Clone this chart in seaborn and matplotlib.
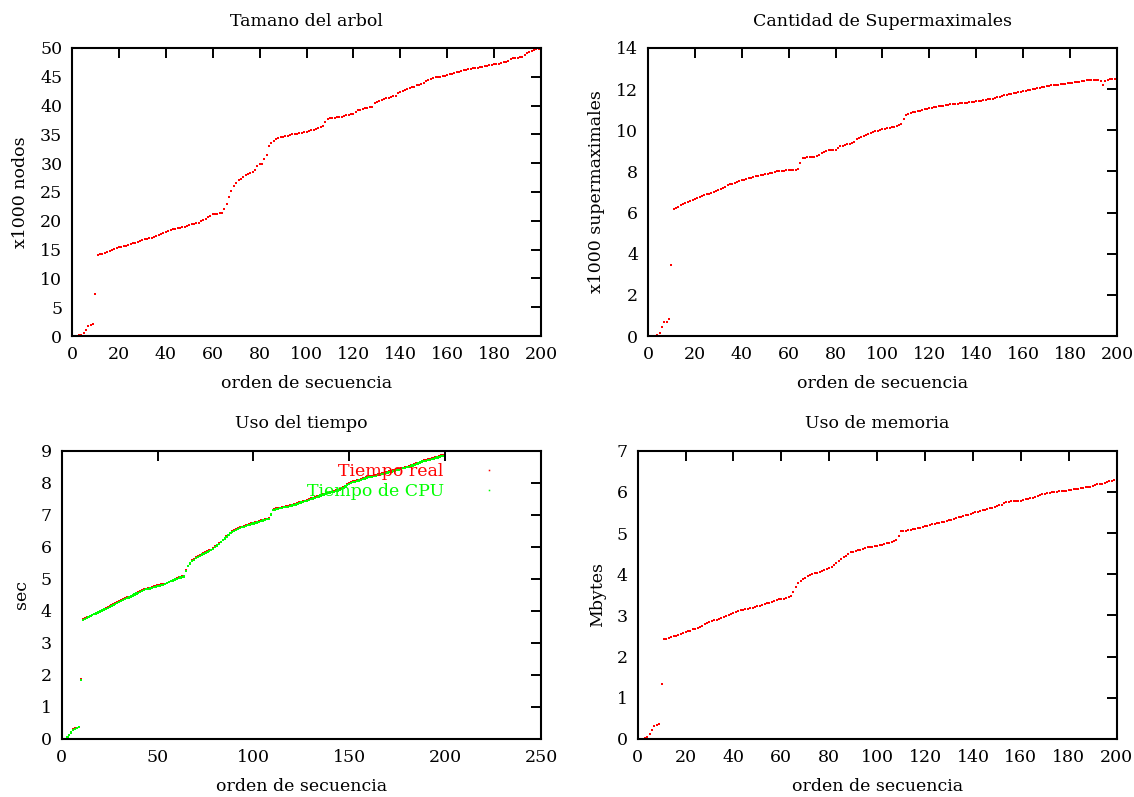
import numpy as np
import pandas as pd
import matplotlib
matplotlib.use("Agg")
import matplotlib.pyplot as plt
import seaborn as sns

# Datos (orden de secuencia 1..199)
orden = list(range(1, 200))

nodos = [
    0.0, 0.05, 0.1, 0.2, 0.6, 1.0, 1.7, 1.9, 2.0, 7.3,
    14.1, 14.2, 14.3, 14.4, 14.6, 14.8, 15.0, 15.1, 15.2, 15.4,
    15.5, 15.6, 15.7, 15.8, 15.9, 16.1, 16.2, 16.4, 16.5, 16.7,
    16.8, 16.9, 17.0, 17.1, 17.2, 17.3, 17.5, 17.7, 17.9, 18.1,
    18.3, 18.4, 18.5, 18.6, 18.7, 18.8, 18.9, 19.0, 19.1, 19.2,
    19.4, 19.5, 19.6, 19.7, 19.9, 20.1, 20.3, 20.6, 20.9, 21.1,
    21.2, 21.2, 21.3, 21.3, 22.1, 23.0, 24.2, 25.2, 26.1, 26.6,
    27.0, 27.3, 27.6, 27.9, 28.1, 28.3, 28.5, 28.8, 29.5, 29.8,
    29.9, 30.8, 31.4, 33.0, 33.5, 33.9, 34.2, 34.3, 34.5, 34.6,
    34.7, 34.8, 34.9, 35.0, 35.0, 35.1, 35.2, 35.3, 35.4, 35.5,
    35.6, 35.7, 35.8, 35.9, 36.1, 36.3, 36.5, 37.2, 37.7, 37.8,
    37.9, 37.9, 38.0, 38.0, 38.1, 38.2, 38.3, 38.4, 38.5, 38.6,
    38.9, 39.2, 39.3, 39.4, 39.5, 39.6, 39.7, 39.8, 40.5, 40.6,
    40.8, 41.0, 41.2, 41.3, 41.4, 41.5, 41.6, 41.7, 42.1, 42.4,
    42.5, 42.7, 42.9, 43.0, 43.2, 43.3, 43.5, 43.6, 43.8, 44.0,
    44.2, 44.4, 44.7, 44.8, 44.9, 45.0, 45.0, 45.1, 45.2, 45.3,
    45.4, 45.5, 45.6, 45.8, 45.9, 46.0, 46.1, 46.2, 46.3, 46.4,
    46.5, 46.5, 46.6, 46.7, 46.7, 46.8, 46.9, 47.0, 47.1, 47.2,
    47.3, 47.3, 47.4, 47.5, 47.6, 47.8, 48.1, 48.2, 48.3, 48.3,
    48.4, 48.4, 48.8, 49.1, 49.3, 49.5, 49.7, 49.8, 49.9,
]

supermax = [
    0.0, 0.0, 0.0, 0.05, 0.15, 0.44, 0.68, 0.7, 0.83, 3.45,
    6.19, 6.24, 6.29, 6.35, 6.43, 6.48, 6.53, 6.58, 6.63, 6.67,
    6.71, 6.75, 6.8, 6.84, 6.88, 6.92, 6.96, 7.02, 7.07, 7.12,
    7.16, 7.21, 7.26, 7.32, 7.37, 7.41, 7.45, 7.49, 7.53, 7.57,
    7.6, 7.63, 7.67, 7.7, 7.73, 7.77, 7.8, 7.82, 7.84, 7.86,
    7.88, 7.9, 7.93, 7.97, 8.0, 8.02, 8.03, 8.04, 8.05, 8.05,
    8.06, 8.07, 8.08, 8.13, 8.42, 8.66, 8.67, 8.68, 8.69, 8.7,
    8.71, 8.73, 8.8, 8.88, 8.95, 9.0, 9.02, 9.03, 9.04, 9.05,
    9.12, 9.22, 9.25, 9.28, 9.31, 9.34, 9.37, 9.45, 9.58, 9.63,
    9.68, 9.72, 9.78, 9.84, 9.89, 9.92, 9.95, 9.98, 10.01, 10.04,
    10.06, 10.09, 10.12, 10.15, 10.18, 10.22, 10.26, 10.29, 10.54, 10.75,
    10.8, 10.84, 10.87, 10.9, 10.93, 10.96, 10.99, 11.02, 11.05, 11.08,
    11.1, 11.12, 11.15, 11.17, 11.19, 11.2, 11.22, 11.24, 11.26, 11.27,
    11.28, 11.3, 11.31, 11.32, 11.34, 11.35, 11.36, 11.38, 11.39, 11.41,
    11.43, 11.44, 11.46, 11.48, 11.5, 11.52, 11.54, 11.55, 11.6, 11.64,
    11.68, 11.7, 11.73, 11.75, 11.77, 11.8, 11.82, 11.84, 11.87, 11.89,
    11.92, 11.95, 11.97, 12.0, 12.02, 12.04, 12.07, 12.09, 12.12, 12.15,
    12.17, 12.19, 12.2, 12.21, 12.22, 12.24, 12.25, 12.27, 12.29, 12.3,
    12.31, 12.33, 12.35, 12.36, 12.38, 12.39, 12.42, 12.43, 12.44, 12.45,
    12.46, 12.46, 12.38, 12.2, 12.39, 12.44, 12.47, 12.49, 12.5,
]

tiempo_real = [
    0.0, 0.0, 0.06, 0.13, 0.2, 0.3, 0.33, 0.35, 0.38, 1.87,
    3.73, 3.76, 3.79, 3.82, 3.85, 3.88, 3.91, 3.94, 3.97, 4.0,
    4.03, 4.06, 4.09, 4.12, 4.15, 4.18, 4.21, 4.24, 4.27, 4.3,
    4.33, 4.36, 4.39, 4.42, 4.44, 4.47, 4.5, 4.53, 4.56, 4.59,
    4.62, 4.65, 4.67, 4.69, 4.71, 4.72, 4.74, 4.76, 4.77, 4.79,
    4.8, 4.82, 4.83, 4.85, 4.88, 4.91, 4.94, 4.97, 5.0, 5.02,
    5.04, 5.06, 5.07, 5.09, 5.26, 5.41, 5.5, 5.57, 5.62, 5.67,
    5.7, 5.74, 5.78, 5.8, 5.83, 5.86, 5.89, 5.91, 5.96, 6.01,
    6.06, 6.11, 6.16, 6.22, 6.28, 6.33, 6.38, 6.44, 6.49, 6.52,
    6.55, 6.58, 6.61, 6.63, 6.65, 6.67, 6.69, 6.71, 6.73, 6.75,
    6.76, 6.78, 6.8, 6.82, 6.84, 6.86, 6.88, 6.9, 7.03, 7.16,
    7.18, 7.2, 7.21, 7.22, 7.24, 7.25, 7.26, 7.27, 7.29, 7.31,
    7.32, 7.34, 7.36, 7.38, 7.4, 7.42, 7.44, 7.46, 7.48, 7.51,
    7.53, 7.55, 7.57, 7.59, 7.62, 7.64, 7.65, 7.67, 7.69, 7.71,
    7.72, 7.74, 7.76, 7.78, 7.8, 7.83, 7.86, 7.9, 7.95, 7.99,
    8.02, 8.04, 8.05, 8.07, 8.09, 8.11, 8.13, 8.15, 8.17, 8.19,
    8.2, 8.21, 8.23, 8.24, 8.26, 8.27, 8.29, 8.3, 8.32, 8.34,
    8.35, 8.37, 8.38, 8.4, 8.42, 8.43, 8.45, 8.47, 8.49, 8.5,
    8.52, 8.54, 8.56, 8.58, 8.6, 8.62, 8.65, 8.68, 8.7, 8.71,
    8.73, 8.74, 8.76, 8.77, 8.79, 8.81, 8.83, 8.85, 8.86,
]

tiempo_cpu = [
    0.0, 0.0, 0.05, 0.12, 0.2, 0.29, 0.32, 0.34, 0.37, 1.85,
    3.71, 3.74, 3.77, 3.8, 3.83, 3.86, 3.89, 3.92, 3.95, 3.98,
    4.01, 4.04, 4.07, 4.1, 4.13, 4.16, 4.19, 4.22, 4.25, 4.28,
    4.31, 4.34, 4.37, 4.4, 4.42, 4.45, 4.48, 4.51, 4.54, 4.57,
    4.6, 4.63, 4.65, 4.67, 4.69, 4.7, 4.72, 4.74, 4.75, 4.77,
    4.78, 4.8, 4.81, 4.83, 4.86, 4.89, 4.92, 4.95, 4.98, 5.0,
    5.02, 5.04, 5.05, 5.07, 5.24, 5.39, 5.48, 5.55, 5.6, 5.65,
    5.68, 5.72, 5.76, 5.78, 5.81, 5.84, 5.87, 5.89, 5.94, 5.99,
    6.04, 6.09, 6.14, 6.2, 6.26, 6.31, 6.36, 6.42, 6.47, 6.5,
    6.53, 6.56, 6.59, 6.61, 6.63, 6.65, 6.67, 6.69, 6.71, 6.73,
    6.74, 6.76, 6.78, 6.8, 6.82, 6.84, 6.86, 6.88, 7.01, 7.14,
    7.16, 7.18, 7.19, 7.2, 7.22, 7.23, 7.24, 7.25, 7.27, 7.29,
    7.3, 7.32, 7.34, 7.36, 7.38, 7.4, 7.42, 7.44, 7.46, 7.49,
    7.51, 7.53, 7.55, 7.57, 7.6, 7.62, 7.63, 7.65, 7.67, 7.69,
    7.7, 7.72, 7.74, 7.76, 7.78, 7.81, 7.84, 7.88, 7.93, 7.97,
    8.0, 8.02, 8.03, 8.05, 8.07, 8.09, 8.11, 8.13, 8.15, 8.17,
    8.18, 8.19, 8.21, 8.22, 8.24, 8.25, 8.27, 8.28, 8.3, 8.32,
    8.33, 8.35, 8.36, 8.38, 8.4, 8.41, 8.43, 8.45, 8.47, 8.48,
    8.5, 8.52, 8.54, 8.56, 8.58, 8.6, 8.63, 8.66, 8.68, 8.69,
    8.71, 8.72, 8.74, 8.75, 8.77, 8.79, 8.81, 8.83, 8.84,
]

memoria = [
    0.0, 0.0, 0.03, 0.06, 0.11, 0.21, 0.32, 0.33, 0.37, 1.33,
    2.43, 2.43, 2.45, 2.47, 2.49, 2.51, 2.53, 2.55, 2.57, 2.59,
    2.61, 2.63, 2.66, 2.68, 2.7, 2.72, 2.75, 2.78, 2.81, 2.84,
    2.86, 2.88, 2.9, 2.92, 2.94, 2.96, 2.98, 3.0, 3.03, 3.06,
    3.09, 3.11, 3.13, 3.14, 3.15, 3.16, 3.17, 3.19, 3.21, 3.22,
    3.23, 3.25, 3.27, 3.29, 3.31, 3.33, 3.35, 3.37, 3.39, 3.4,
    3.41, 3.43, 3.44, 3.46, 3.58, 3.68, 3.78, 3.84, 3.89, 3.92,
    3.95, 3.98, 4.0, 4.02, 4.04, 4.06, 4.08, 4.1, 4.12, 4.14,
    4.18, 4.23, 4.27, 4.32, 4.36, 4.41, 4.45, 4.49, 4.53, 4.55,
    4.57, 4.59, 4.6, 4.62, 4.63, 4.65, 4.66, 4.67, 4.68, 4.69,
    4.7, 4.71, 4.73, 4.75, 4.77, 4.79, 4.81, 4.84, 4.94, 5.04,
    5.05, 5.06, 5.07, 5.08, 5.1, 5.11, 5.12, 5.13, 5.14, 5.16,
    5.18, 5.2, 5.21, 5.23, 5.24, 5.25, 5.27, 5.28, 5.29, 5.31,
    5.32, 5.34, 5.36, 5.38, 5.4, 5.41, 5.43, 5.45, 5.47, 5.48,
    5.5, 5.52, 5.54, 5.55, 5.57, 5.58, 5.6, 5.62, 5.64, 5.65,
    5.67, 5.69, 5.72, 5.75, 5.76, 5.77, 5.78, 5.78, 5.79, 5.79,
    5.8, 5.82, 5.83, 5.85, 5.86, 5.87, 5.9, 5.92, 5.95, 5.96,
    5.97, 5.98, 5.99, 6.0, 6.0, 6.01, 6.01, 6.02, 6.03, 6.04,
    6.05, 6.06, 6.07, 6.08, 6.09, 6.1, 6.11, 6.12, 6.13, 6.15,
    6.16, 6.18, 6.19, 6.2, 6.22, 6.24, 6.26, 6.27, 6.28,
]

ROJO = "#ff0000"
VERDE = "#00ff00"

sns.set_style("white")
plt.rcParams["font.family"] = ["DejaVu Serif"]
plt.rcParams["font.size"] = 12.5
plt.rcParams["text.color"] = "black"
plt.rcParams["axes.labelcolor"] = "black"


def estilo_ejes(ax, titulo, ylabel, xlim, xticks, ylim, yticks):
    ax.set_title(titulo, fontsize=12.5, pad=16, color="black")
    ax.set_xlabel("orden de secuencia", fontsize=12.5, labelpad=9)
    ax.set_ylabel(ylabel, fontsize=12.5, labelpad=8)
    ax.set_xlim(*xlim)
    ax.set_ylim(*ylim)
    ax.set_xticks(xticks)
    ax.set_yticks(yticks)
    ax.tick_params(direction="in", length=7, width=1.4, top=True, right=True,
                   labelsize=12.5, pad=7, colors="black")
    for s in ax.spines.values():
        s.set_visible(True)
        s.set_color("black")
        s.set_linewidth(1.5)


fig = plt.figure(figsize=(11.34, 7.97), dpi=100)
ax1 = fig.add_axes([0.0635, 0.5784, 0.4136, 0.3614])
ax2 = fig.add_axes([0.5714, 0.5784, 0.4136, 0.3614])
ax3 = fig.add_axes([0.0544, 0.0728, 0.4227, 0.3617])
ax4 = fig.add_axes([0.5623, 0.0728, 0.4224, 0.3617])

kw = dict(s=2.5, marker="s", linewidth=0)

sns.scatterplot(x=orden, y=nodos, color=ROJO, ax=ax1, **kw)
estilo_ejes(ax1, "Tamano del arbol", "x1000 nodos", (0, 200), range(0, 201, 20),
            (0, 50), range(0, 51, 5))

sns.scatterplot(x=orden, y=supermax, color=ROJO, ax=ax2, **kw)
estilo_ejes(ax2, "Cantidad de Supermaximales", "x1000 supermaximales", (0, 200),
            range(0, 201, 20), (0, 14), range(0, 15, 2))

df_t = pd.DataFrame({"orden": orden * 2,
                     "valor": tiempo_real + tiempo_cpu,
                     "serie": ["Tiempo real"] * len(orden) + ["Tiempo de CPU"] * len(orden)})
sns.scatterplot(data=df_t, x="orden", y="valor", hue="serie",
                palette={"Tiempo real": ROJO, "Tiempo de CPU": VERDE}, ax=ax3, **kw)
estilo_ejes(ax3, "Uso del tiempo", "sec", (0, 250), range(0, 251, 50),
            (0, 9), range(0, 10, 1))
leg = ax3.legend(loc="upper right", bbox_to_anchor=(0.96, 1.01), frameon=False,
                 markerfirst=False, fontsize=12.5, handletextpad=1.6, labelspacing=0.15,
                 markerscale=0.7)
for txt, col in zip(leg.get_texts(), [ROJO, VERDE]):
    txt.set_color(col)

sns.scatterplot(x=orden, y=memoria, color=ROJO, ax=ax4, **kw)
estilo_ejes(ax4, "Uso de memoria", "Mbytes", (0, 200), range(0, 201, 20),
            (0, 7), range(0, 8, 1))

fig.savefig("out.png", dpi=100)
